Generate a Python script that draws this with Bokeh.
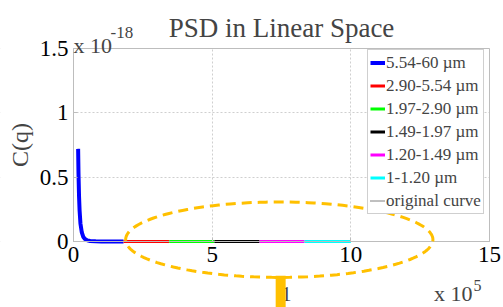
import numpy as np
from bokeh.plotting import figure
from bokeh.models import Range1d, Legend, LegendItem, Label, BoxAnnotation, PolyAnnotation, FixedTicker
from bokeh.embed import file_html
from bokeh.resources import INLINE

# q in units of 1e5 (1/m), C(q) in units of 1e-18
band_labels = ["5.54-60 µm", "2.90-5.54 µm", "1.97-2.90 µm", "1.49-1.97 µm", "1.20-1.49 µm", "1-1.20 µm"]
q_b1 = [0.167, 0.18, 0.20, 0.22, 0.25, 0.30, 0.35, 0.40, 0.50, 0.60, 0.80, 1.00, 1.40, 1.805]
C_b1 = [0.72, 0.53, 0.35, 0.24, 0.14, 0.07, 0.037, 0.022, 0.009, 0.004, 0.0014, 0.0006, 0.0002, 0.0001]
q_b2 = [1.805, 2.5, 3.45]
C_b2 = [0.0001, 0.00004, 0.00002]
q_b3 = [3.45, 4.2, 5.08]
C_b3 = [0.00002, 0.00001, 0.000006]
q_b4 = [5.08, 5.9, 6.71]
C_b4 = [0.000006, 0.000004, 0.000003]
q_b5 = [6.71, 7.5, 8.33]
C_b5 = [0.000003, 0.000002, 0.0000015]
q_b6 = [8.33, 9.2, 10.0]
C_b6 = [0.0000015, 0.000001, 0.0000008]
x_ticks = [0, 5, 10, 15]
y_ticks = [0, 0.5, 1, 1.5]
x_lim = (0, 15)
y_lim = (0, 1.5)

band_q = [q_b1, q_b2, q_b3, q_b4, q_b5, q_b6]
band_C = [C_b1, C_b2, C_b3, C_b4, C_b5, C_b6]
band_colors = ["#0000FF", "#FF0000", "#00FF00", "#000000", "#FF00FF", "#00FFFF"]
band_widths = [4, 3, 3, 3, 3, 3]

SERIF = "Liberation Serif"
ORANGE = "#FFC000"
GRAY = "#bdbdbd"

# canvas geometry (pixels): axes box left/right/top/bottom
W, H = 503, 307
BL, BR, BT, BB = 73, 489, 48, 241
sx = (BR - BL) / (x_lim[1] - x_lim[0])
sy = (BB - BT) / (y_lim[1] - y_lim[0])
xr = Range1d(x_lim[0] - BL / sx, x_lim[1] + (W - BR) / sx)
yr = Range1d(y_lim[0] - (H - BB) / sy, y_lim[1] + BT / sy)

p = figure(width=W, height=H, x_range=xr, y_range=yr,
           output_backend="svg", toolbar_location=None, min_border=0)
p.outline_line_color = None

for ax in (p.xaxis[0], p.yaxis[0]):
    ax.major_label_text_font = SERIF
    ax.major_label_text_font_size = "23px"
    ax.major_label_text_color = "black"
    ax.axis_line_color = GRAY
    ax.major_tick_line_color = GRAY
    ax.major_tick_in = 4
    ax.major_tick_out = 0
    ax.minor_tick_line_color = None
    ax.major_label_standoff = 5
p.xaxis[0].fixed_location = y_lim[0]
p.yaxis[0].fixed_location = x_lim[0]
p.xaxis.bounds = x_lim
p.yaxis.bounds = y_lim
p.xaxis.ticker = FixedTicker(ticks=x_ticks)
p.yaxis.ticker = FixedTicker(ticks=y_ticks)
p.yaxis.major_label_overrides = {0: "0", 0.5: "0.5", 1: "1", 1.5: "1.5"}
p.yaxis.axis_label = "C(q)"
p.yaxis.axis_label_text_font = SERIF
p.yaxis.axis_label_text_font_size = "24px"
p.yaxis.axis_label_text_font_style = "normal"
p.yaxis.axis_label_standoff = 4

for g in (p.xgrid[0], p.ygrid[0]):
    g.grid_line_color = "#cfcfcf"
    g.grid_line_dash = "2 2"
p.xgrid.ticker = FixedTicker(ticks=x_ticks)
p.ygrid.ticker = FixedTicker(ticks=y_ticks)
p.xgrid.bounds = x_lim
p.ygrid.bounds = y_lim

# white masks so grid lines stay inside the axes box
for kw in (dict(bottom=y_lim[1]), dict(top=y_lim[0]), dict(right=x_lim[0]), dict(left=x_lim[1])):
    p.add_layout(BoxAnnotation(fill_color="white", fill_alpha=1, line_alpha=0, level="underlay", **kw))

# axes box
p.add_layout(BoxAnnotation(left=x_lim[0], right=x_lim[1], bottom=y_lim[0], top=y_lim[1],
                           fill_color=None, line_color=GRAY, line_alpha=1, line_width=1,
                           level="underlay"))

q_all = q_b1 + q_b2[1:] + q_b3[1:] + q_b4[1:] + q_b5[1:] + q_b6[1:]
C_all = C_b1 + C_b2[1:] + C_b3[1:] + C_b4[1:] + C_b5[1:] + C_b6[1:]
orig = p.line(q_all, C_all, line_color="black", line_width=1, line_dash="1 1")

items = []
for lab, qs, cs, col, w in zip(band_labels, band_q, band_C, band_colors, band_widths):
    r = p.line(qs, cs, line_color=col, line_width=w)
    items.append(LegendItem(label=lab, renderers=[r]))
items.append(LegendItem(label="original curve", renderers=[orig]))

legend = Legend(items=items, location=(367, H - 214))
legend.label_text_font = SERIF
legend.label_text_font_size = "17px"
legend.glyph_width = 15
legend.glyph_height = 21
legend.label_height = 21
legend.spacing = 2
legend.padding = 2
legend.margin = 0
legend.label_standoff = 1
legend.border_line_color = "#a0a0a0"
legend.border_line_width = 1
legend.background_fill_alpha = 1
p.add_layout(legend)

# title and exponent labels
p.add_layout(Label(x=7.5, y=y_lim[1], y_offset=21, text="PSD in Linear Space", text_font=SERIF,
                   text_font_size="27px", text_align="center", text_baseline="alphabetic"))
p.add_layout(Label(x=0, y=y_lim[1], x_offset=0, y_offset=3, text="x 10", text_font=SERIF,
                   text_font_size="22px", text_baseline="alphabetic"))
p.add_layout(Label(x=0, y=y_lim[1], x_offset=37, y_offset=16, text="-18", text_font=SERIF,
                   text_font_size="17px", text_baseline="alphabetic"))
p.add_layout(Label(x=15, y=0, x_offset=-17, y_offset=-52, text="x 10", text_font=SERIF,
                   text_font_size="22px", text_align="right", text_baseline="alphabetic"))
p.add_layout(Label(x=15, y=0, x_offset=-16, y_offset=-44, text="5", text_font=SERIF,
                   text_font_size="16px", text_baseline="alphabetic"))

# annotation overlay: dashed ellipse and marker bar
t = np.linspace(0, 2 * np.pi, 160)
ex = 7.42 + 5.54 * np.cos(t)
ey = 0.014 + 0.293 * np.sin(t)
p.add_layout(PolyAnnotation(xs=list(ex), ys=list(ey), fill_color=None, fill_alpha=0,
                            line_color=ORANGE, line_alpha=1, line_width=3, line_dash="10 6"))
p.add_layout(Label(x=7.5, y=0, x_offset=0, y_offset=-52, text="1", text_font=SERIF,
                   text_font_size="20px", text_baseline="alphabetic"))
p.add_layout(BoxAnnotation(left=7.29, right=7.65, bottom=yr.start, top=-0.266,
                           fill_color=ORANGE, fill_alpha=1, line_alpha=0))

open("out.html", "w").write(file_html(p, INLINE))
